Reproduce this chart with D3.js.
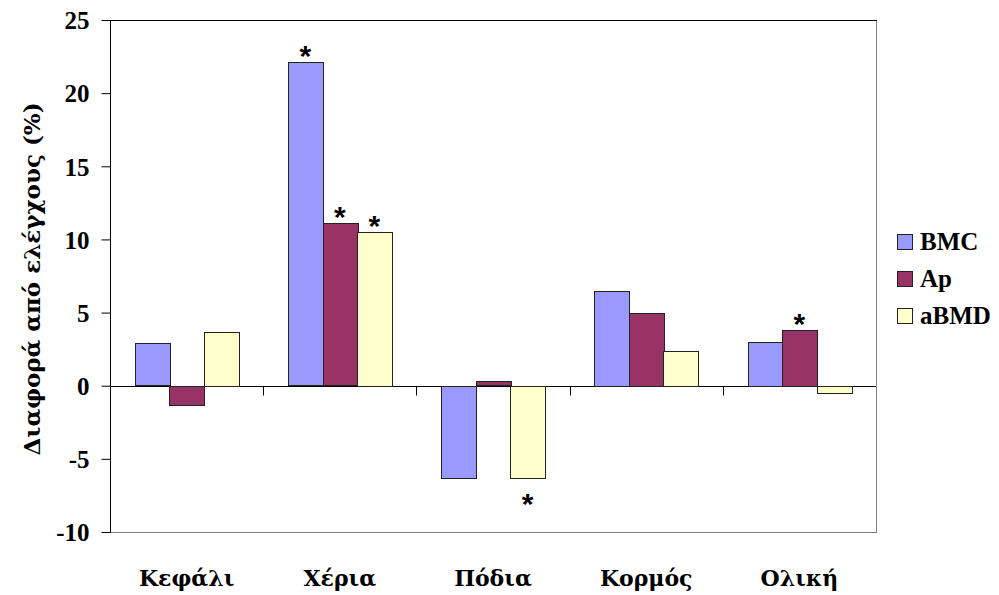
<!DOCTYPE html>
<html>
<head>
<meta charset="utf-8">
<script src="https://cdn.jsdelivr.net/npm/d3@7/dist/d3.min.js"></script>
<style>
  html, body { margin: 0; padding: 0; background: #fff; }
  svg { display: block; }
  text { font-family: "Liberation Serif", "DejaVu Serif", serif; font-weight: bold; fill: #000; }
</style>
</head>
<body>
<svg id="chart" width="999" height="595"></svg>
<script>
// Body regions and measured series (% difference from controls)
const categories = ["Κεφάλι", "Χέρια", "Πόδια", "Κορμός", "Ολική"];
const seriesNames = ["BMC", "Ap", "aBMD"];
const bmcValues  = [2.9, 22.1, -6.3, 6.5, 3.0];
const apValues   = [-1.3, 11.1, 0.3, 5.0, 3.8];
const abmdValues = [3.7, 10.5, -6.3, 2.4, -0.45];
const seriesColors = ["#9999FF", "#993366", "#FFFFCC"];
// Significant differences marked with an asterisk: [category, series]
const significant = [["Χέρια", "BMC"], ["Χέρια", "Ap"], ["Χέρια", "aBMD"], ["Πόδια", "aBMD"], ["Ολική", "Ap"]];
const yTicks = [-10, -5, 0, 5, 10, 15, 20, 25];
const yTitle = "Διαφορά από ελέγχους (%)";

const values = { BMC: bmcValues, Ap: apValues, aBMD: abmdValues };
const rows = [];
categories.forEach((c, i) => seriesNames.forEach(s => rows.push({ cat: c, series: s, value: values[s][i] })));

const svg = d3.select("#chart");
const plot = { left: 110, right: 876, top: 20, bottom: 532 };

const x0 = d3.scaleBand().domain(categories).range([plot.left, plot.right]).padding(0);
const x1 = d3.scaleBand().domain(seriesNames).range([0, x0.bandwidth()]).paddingInner(0).paddingOuter(0.72);
const y = d3.scaleLinear().domain([-10, 25]).range([plot.bottom, plot.top]);
const color = d3.scaleOrdinal().domain(seriesNames).range(seriesColors);

// plot area frame
svg.append("rect")
  .attr("x", plot.left + 0.5).attr("y", plot.top + 0.5)
  .attr("width", plot.right - plot.left).attr("height", plot.bottom - plot.top)
  .attr("fill", "none").attr("stroke", "#808080");
svg.append("line")
  .attr("x1", plot.left).attr("x2", plot.right + 1)
  .attr("y1", plot.top + 0.5).attr("y2", plot.top + 0.5)
  .attr("stroke", "#000");

// zero baseline with category separators
const zeroY = Math.round(y(0)) + 0.5;
svg.append("line")
  .attr("x1", plot.left).attr("x2", plot.right)
  .attr("y1", zeroY).attr("y2", zeroY)
  .attr("stroke", "#000");
svg.append("g").selectAll("line").data(categories.slice(1)).join("line")
  .attr("x1", d => Math.round(x0(d)) + 0.5).attr("x2", d => Math.round(x0(d)) + 0.5)
  .attr("y1", zeroY).attr("y2", zeroY + 9)
  .attr("stroke", "#000");

// bars
svg.append("g").selectAll("rect").data(rows).join("rect")
  .attr("x", d => Math.round(x0(d.cat) + x1(d.series)) + 0.5)
  .attr("y", d => Math.round(y(Math.max(0, d.value))) + 0.5)
  .attr("width", Math.round(x1.bandwidth()))
  .attr("height", d => Math.max(1, Math.round(Math.abs(y(d.value) - y(0)))))
  .attr("fill", d => color(d.series))
  .attr("stroke", "#222").attr("stroke-width", 1);

// category labels
const gx = svg.append("g")
  .attr("transform", `translate(0,${plot.bottom})`)
  .call(d3.axisBottom(x0).tickSize(0));
gx.select(".domain").remove();
gx.selectAll("text")
  .attr("y", 54).attr("dy", 0)
  .style("font-family", "'DejaVu Serif', serif")
  .style("font-weight", "bold")
  .style("font-size", "22px");

// y axis
const gy = svg.append("g")
  .attr("transform", `translate(${plot.left + 0.5},0)`)
  .call(d3.axisLeft(y).tickValues(yTicks).tickSize(9).tickPadding(12)
    .tickFormat(d => String(d)));
gy.select(".domain").attr("d", `M0,${plot.top}V${plot.bottom + 0.5}`).attr("stroke", "#000");
gy.selectAll(".tick line").attr("stroke", "#000");
gy.selectAll("text")
  .style("font-family", "'Liberation Serif', serif")
  .style("font-weight", "bold")
  .style("font-size", "25px")
  .attr("dy", "0.35em");

// significance markers
svg.append("g").selectAll("text").data(significant).join("text")
  .attr("x", d => x0(d[0]) + x1(d[1]) + x1.bandwidth() / 2)
  .attr("y", d => {
    const v = values[d[1]][categories.indexOf(d[0])];
    return v >= 0 ? y(v) + 4 : y(v) + 36;
  })
  .attr("text-anchor", "middle")
  .style("font-size", "30px")
  .style("font-family", "'Liberation Sans', sans-serif")
  .text("*");

// y axis title
svg.append("text")
  .attr("transform", `translate(40,279) rotate(-90)`)
  .attr("text-anchor", "middle")
  .style("font-family", "'DejaVu Serif', serif")
  .style("font-size", "23px")
  .text(yTitle);

// legend
const legend = svg.append("g").selectAll("g").data(seriesNames).join("g")
  .attr("transform", (d, i) => `translate(897,${234 + i * 37})`);
legend.append("rect")
  .attr("x", 0.5).attr("y", 0.5).attr("width", 15).attr("height", 15)
  .attr("fill", d => color(d)).attr("stroke", "#222");
legend.append("text")
  .attr("x", 23).attr("y", 16)
  .style("font-size", "25px")
  .text(d => d);
</script>
</body>
</html>
